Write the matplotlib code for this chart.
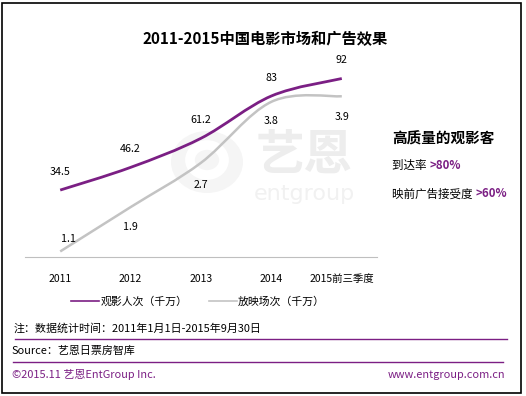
import matplotlib
matplotlib.use("Agg")
import matplotlib.pyplot as plt
from matplotlib.path import Path
from matplotlib.patches import PathPatch, Rectangle, Ellipse
from matplotlib.lines import Line2D

plt.rcParams['font.family'] = ['Noto Sans CJK SC', 'DejaVu Sans']

years = ["2011", "2012", "2013", "2014", "2015前三季度"]
audience = [34.5, 46.2, 61.2, 83, 92]      # 观影人次（千万）
screenings = [1.1, 1.9, 2.7, 3.8, 3.9]     # 放映场次（千万）
audience_label = "观影人次（千万）"
screening_label = "放映场次（千万）"

PURPLE = "#7b1f84"
GRAY = "#c3c3c3"
W, H = 526, 396


def smooth_path(xs, ys):
    # Catmull-Rom style bezier through the points (like Excel's smoothed line)
    n = len(xs)
    pts = list(zip(xs, ys))
    verts = [pts[0]]
    codes = [Path.MOVETO]
    for i in range(n - 1):
        p0 = pts[i - 1] if i > 0 else pts[i]
        p1 = pts[i]
        p2 = pts[i + 1]
        p3 = pts[i + 2] if i + 2 < n else pts[i + 1]
        c1 = (p1[0] + (p2[0] - p0[0]) / 6, p1[1] + (p2[1] - p0[1]) / 6)
        c2 = (p2[0] - (p3[0] - p1[0]) / 6, p2[1] - (p3[1] - p1[1]) / 6)
        verts += [c1, c2, p2]
        codes += [Path.CURVE4] * 3
    return Path(verts, codes)


fig = plt.figure(figsize=(W / 100, H / 100), dpi=100)

# frame
fig.add_artist(Rectangle((2 / W, 3 / H), 519 / W, 390 / H, transform=fig.transFigure,
                         fill=False, edgecolor="black", linewidth=1.2))

# watermark
fig.add_artist(Ellipse((207 / W, 1 - 162 / H), 72 / W, 62 / H, transform=fig.transFigure,
                       facecolor="#f5f5f5", edgecolor="none", zorder=0))
fig.add_artist(Ellipse((207 / W, 1 - 160 / H), 34 / W, 30 / H, transform=fig.transFigure,
                       facecolor="none", edgecolor="white", linewidth=7, zorder=0))
fig.text(304 / W, 1 - 155 / H, "艺恩", fontsize=35, color="#ededed", fontweight="bold",
         ha="center", va="center", zorder=0)
fig.text(304 / W, 1 - 194 / H, "entgroup", fontsize=16, color="#f1f1f1",
         ha="center", va="center", family="DejaVu Sans", zorder=0)

ax = fig.add_axes([25 / W, 1 - 257 / H, 352 / W, 194 / H])
ax.patch.set_alpha(0)
ax2 = ax.twinx()
ax2.patch.set_alpha(0)

x = list(range(len(years)))
ax.set_xlim(-0.5, 4.5)
ax.set_ylim(0, 100)
ax2.set_ylim(1.0, 4.5)

ax.add_patch(PathPatch(smooth_path(x, audience), facecolor="none", edgecolor=PURPLE,
                       linewidth=2, transform=ax.transData))
ax2.add_patch(PathPatch(smooth_path(x, screenings), facecolor="none", edgecolor=GRAY,
                        linewidth=1.8, transform=ax2.transData))

for xi, v in zip(x, audience):
    ax.annotate(f"{v:g}", (xi, v), xytext=(0, 13), textcoords="offset points",
                ha="center", va="center", fontsize=7.7)
scr_offsets = [(6, 9), (0, -14), (0, -16), (0, -14), (0, -15)]
for xi, v, off in zip(x, screenings, scr_offsets):
    ax2.annotate(f"{v:g}", (xi, v), xytext=off, textcoords="offset points",
                 ha="center", va="center", fontsize=7.7)

for a in (ax, ax2):
    for s in a.spines.values():
        s.set_visible(False)
    a.set_yticks([])
ax.spines["bottom"].set_visible(True)
ax.spines["bottom"].set_color("#bfbfbf")
ax.set_xticks(x)
ax.set_xticklabels(years, fontsize=7.5)
ax.tick_params(axis="x", length=0, pad=12)

handles = [Line2D([], [], color=PURPLE, linewidth=1.2),
           Line2D([], [], color=GRAY, linewidth=1.2)]
fig.legend(handles, [audience_label, screening_label], loc="center",
           bbox_to_anchor=(198 / W, 1 - 302 / H), ncol=2, frameon=False,
           fontsize=7.8, handlelength=2.6, handletextpad=0.1, columnspacing=2.0)

fig.text(265 / W, 1 - 39 / H, "2011-2015中国电影市场和广告效果", fontsize=11,
         fontweight="bold", ha="center", va="center")

# right side notes
fig.text(392 / W, 1 - 139 / H, "高质量的观影客", fontsize=10.5, fontweight="bold",
         ha="left", va="center")
t = fig.text(392 / W, 1 - 165 / H, "到达率 ", fontsize=8.3, ha="left", va="center")
fig.canvas.draw()
bb = t.get_window_extent()
fig.text(bb.x1 / W, 1 - 165 / H, ">80%", fontsize=8.3, fontweight="bold",
         color=PURPLE, ha="left", va="center")
t = fig.text(392 / W, 1 - 194 / H, "映前广告接受度 ", fontsize=8.3, ha="left", va="center")
fig.canvas.draw()
bb = t.get_window_extent()
fig.text(bb.x1 / W, 1 - 194 / H, ">60%", fontsize=8.3, fontweight="bold",
         color=PURPLE, ha="left", va="center")

# footer
fig.text(14 / W, 1 - 328 / H, "注：数据统计时间：2011年1月1日-2015年9月30日", fontsize=7.9,
         ha="left", va="center")
fig.add_artist(Line2D([15 / W, 507 / W], [1 - 339 / H] * 2, color=PURPLE, linewidth=1))
fig.text(12 / W, 1 - 351 / H, "Source：艺恩日票房智库", fontsize=7.9, ha="left", va="center")
fig.add_artist(Line2D([13 / W, 503 / W], [1 - 362 / H] * 2, color=PURPLE, linewidth=1))
fig.text(12 / W, 1 - 375 / H, "©2015.11 艺恩EntGroup Inc.", fontsize=7.9, color=PURPLE,
         ha="left", va="center")
fig.text(505 / W, 1 - 375 / H, "www.entgroup.com.cn", fontsize=7.9, color=PURPLE,
         ha="right", va="center")

fig.savefig("out.png", dpi=100)
